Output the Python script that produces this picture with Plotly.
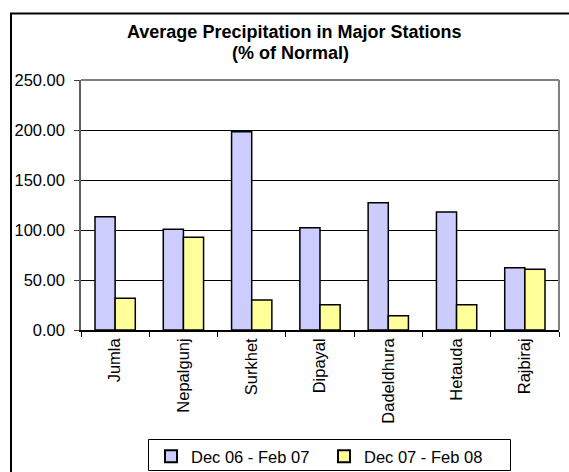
import plotly.graph_objects as go

stations = ["Jumla", "Nepalgunj", "Surkhet", "Dipayal", "Dadeldhura", "Hetauda", "Rajbiraj"]
season_0607 = [113.3, 100.7, 198.3, 102.3, 127.3, 118.0, 62.3]
season_0708 = [31.7, 92.7, 30.0, 25.3, 14.3, 25.3, 60.7]
series_names = ["Dec 06 - Feb 07", "Dec 07 - Feb 08"]
y_ticks = [0, 50, 100, 150, 200, 250]
title_lines = ["Average Precipitation in Major Stations", "(% of Normal)"]

W, H = 569, 472
L, R, T, B = 81, 10, 80, 142
pw, ph = W - L - R, H - T - B

font = "Liberation Sans, Arial, sans-serif"
fsize = 16.5
tsize = 18

fig = go.Figure()
fig.add_trace(go.Bar(
    x=stations, y=season_0607, name=series_names[0],
    marker=dict(color="#CCCCFF", line=dict(color="#000000", width=1.5)),
))
fig.add_trace(go.Bar(
    x=stations, y=season_0708, name=series_names[1],
    marker=dict(color="#FFFF99", line=dict(color="#000000", width=1.5)),
))


def px_x(p):
    return (p - L) / pw


def px_y(p):
    return (H - B - p) / ph


shapes = [
    # outer chart frame
    dict(type="rect", xref="paper", yref="paper",
         x0=px_x(11), x1=px_x(W + 20), y0=px_y(H + 20), y1=px_y(13.5),
         line=dict(color="#000000", width=2), layer="below"),
    # top and right edges of the plot area
    dict(type="line", xref="paper", yref="paper", x0=0, x1=1, y0=1, y1=1,
         line=dict(color="#808080", width=2)),
    dict(type="line", xref="paper", yref="paper", x0=1, x1=1, y0=0, y1=1,
         line=dict(color="#808080", width=2)),
    # legend frame
    dict(type="rect", xref="paper", yref="paper",
         x0=px_x(148.5), x1=px_x(510.5), y0=px_y(470.5), y1=px_y(439.5),
         line=dict(color="#000000", width=1), layer="above"),
]

annotations = [
    dict(text="<b>%s</b>" % title_lines[0], xref="paper", yref="paper",
         x=px_x(294), y=px_y(32), xanchor="center", yanchor="middle",
         showarrow=False, font=dict(family=font, size=tsize, color="#000000")),
    dict(text="<b>%s</b>" % title_lines[1], xref="paper", yref="paper",
         x=px_x(290), y=px_y(53), xanchor="center", yanchor="middle",
         showarrow=False, font=dict(family=font, size=tsize, color="#000000")),
]

fig.update_layout(
    width=W, height=H,
    margin=dict(l=L, r=R, t=T, b=B, autoexpand=False),
    paper_bgcolor="#FFFFFF", plot_bgcolor="#FFFFFF",
    barmode="group", bargap=0.41, bargroupgap=0,
    font=dict(family=font, size=fsize, color="#000000"),
    shapes=shapes,
    annotations=annotations,
    showlegend=True,
    legend=dict(
        orientation="h",
        x=px_x(151), xanchor="left", y=px_y(439), yanchor="top",
        borderwidth=0, bgcolor="rgba(0,0,0,0)",
        font=dict(family=font, size=fsize, color="#000000"),
        entrywidth=128, itemsizing="constant",
        traceorder="normal",
    ),
)

fig.update_yaxes(
    range=[0, 250], tickvals=y_ticks, tickformat=".2f",
    showgrid=True, gridcolor="#000000", gridwidth=1,
    ticks="outside", ticklen=5, tickcolor="#404040",
    ticklabelstandoff=6,
    showline=True, linecolor="#606060", linewidth=1.5,
    zeroline=False, fixedrange=True,
    tickfont=dict(family=font, size=fsize, color="#000000"),
)
fig.update_xaxes(
    type="category", tickangle=-90, tickson="boundaries",
    ticks="outside", ticklen=5, tickcolor="#000000",
    showline=True, linecolor="#000000", linewidth=1.5,
    showgrid=False, fixedrange=True,
    tickfont=dict(family=font, size=fsize, color="#000000"),
)

fig.write_html("out.html")
